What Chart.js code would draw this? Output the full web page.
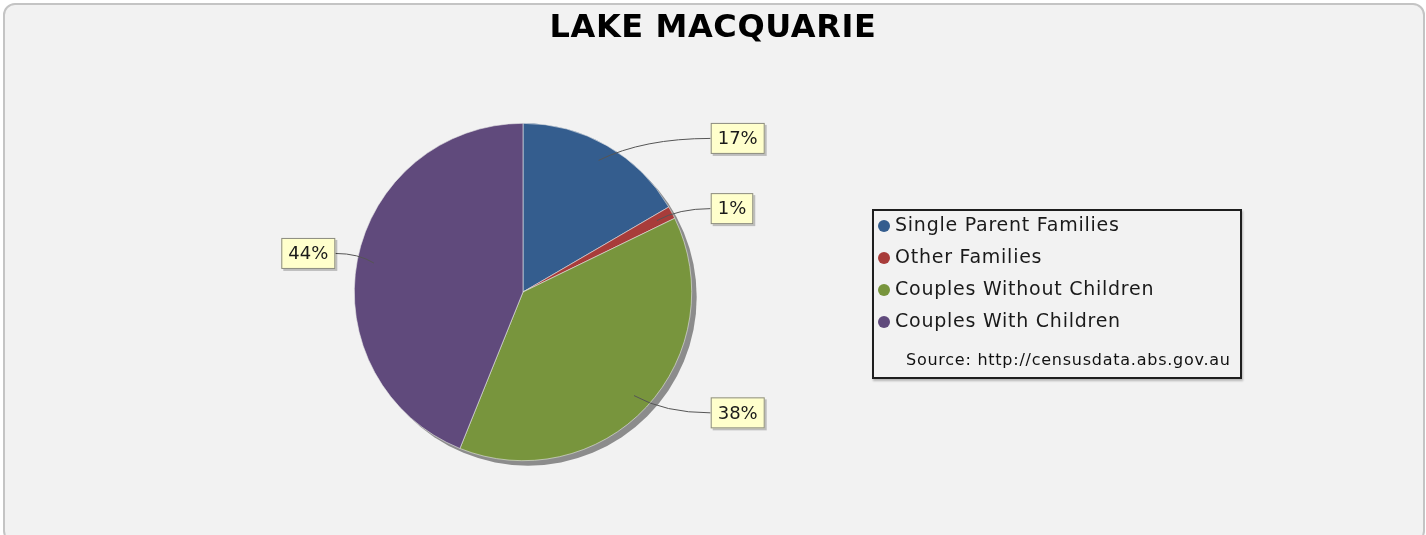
<!DOCTYPE html>
<html>
<head>
<meta charset="utf-8">
<script src="https://cdn.jsdelivr.net/npm/chart.js@4"></script>
<style>
  html, body { margin: 0; padding: 0; background: #ffffff; }
  #frame {
    position: absolute; left: 3px; top: 3px; width: 1418px; height: 536px;
    border: 2px solid #c4c4c4; border-radius: 12px; background: #f2f2f2;
  }
  #pie { position: absolute; left: 0; top: 0; }
  #title {
    position: absolute; left: 0; top: 7px; width: 1426px; text-align: center;
    font: bold 32px "DejaVu Sans", sans-serif; color: #000; letter-spacing: 0.6px;
  }
  #legend {
    position: absolute; left: 872px; top: 209px; width: 366px; height: 166px;
    border: 2px solid #1e1e1e; background: #f2f2f2;
    box-shadow: 1px 2px 2px rgba(0,0,0,0.25);
    font: 19px "DejaVu Sans", sans-serif; color: #1a1a1a;
  }
  .row { position: absolute; left: 0; height: 32px; line-height: 28px; white-space: nowrap; letter-spacing: 0.75px; }
  .dot { display: inline-block; width: 12px; height: 12px; border-radius: 50%; margin: 0 5px 0 4px; vertical-align: -1px; }
  #source { position: absolute; left: 32px; top: 139px; font: 16px "DejaVu Sans", sans-serif; letter-spacing: 0.75px; color: #111; }
</style>
</head>
<body>
<div id="frame"></div>
<canvas id="pie" width="1426" height="535"></canvas>
<div id="title"></div>
<div id="legend"><div id="source"></div></div>
<script>
// chart data
let chartTitle = 'LAKE MACQUARIE';
let categories = ['Single Parent Families', 'Other Families', 'Couples Without Children', 'Couples With Children'];
let shares = [16.6, 1.2, 38.3, 43.9];
let shareLabels = ['17%', '1%', '38%', '44%'];
let sliceColors = ['#345d8e', '#a83c3a', '#78953d', '#604a7c'];
let sourceNote = 'Source: http://censusdata.abs.gov.au';

document.getElementById('title').textContent = chartTitle;
document.getElementById('source').textContent = sourceNote;

// legend rows
let legend = document.getElementById('legend');
categories.forEach(function(name, i) {
    let row = document.createElement('div');
    row.className = 'row';
    row.style.top = (-1 + i * 32) + 'px';
    let dot = document.createElement('span');
    dot.className = 'dot';
    dot.style.background = sliceColors[i];
    row.appendChild(dot);
    row.appendChild(document.createTextNode(name));
    legend.appendChild(row);
});

// grey drop shadow under the pie
const pieShadow = {
    id: 'pieShadow',
    beforeDatasetsDraw(chart) {
        let arc = chart.getDatasetMeta(0).data[0];
        let ctx = chart.ctx;
        ctx.save();
        ctx.fillStyle = '#8c8c8c';
        ctx.beginPath();
        ctx.arc(arc.x + 5, arc.y + 5, arc.outerRadius, 0, Math.PI * 2);
        ctx.fill();
        ctx.restore();
    }
};

// percentage boxes with curved link lines
const sliceLabels = {
    id: 'sliceLabels',
    afterDatasetsDraw(chart) {
        let ctx = chart.ctx;
        let arcs = chart.getDatasetMeta(0).data;
        ctx.save();
        ctx.font = '18px "DejaVu Sans", sans-serif';
        arcs.forEach(function(arc, i) {
            let mid = (arc.startAngle + arc.endAngle) / 2;
            let dx = Math.cos(mid), dy = Math.sin(mid);
            let R = arc.outerRadius;
            let right = dx >= 0;
            let ax = arc.x + dx * R * 0.9, ay = arc.y + dy * R * 0.9;
            let ly = arc.y + dy * R * (right ? 1.05 : 1.2);
            let text = shareLabels[i];
            let tw = ctx.measureText(text).width;
            let bw = tw + 14, bh = 31;
            let bx = right ? arc.x + R + 19 : arc.x - R - 19 - bw;
            let by = ly - bh / 2;
            let ex = right ? bx : bx + bw;
            let cx = ax + (ex - ax) * 0.4;

            ctx.strokeStyle = '#555555';
            ctx.lineWidth = 1;
            ctx.beginPath();
            ctx.moveTo(ax, ay);
            ctx.quadraticCurveTo(cx, ly, ex, ly);
            ctx.stroke();

            ctx.fillStyle = 'rgba(0,0,0,0.22)';
            ctx.fillRect(bx + 2, by + 2, bw, bh);
            ctx.fillStyle = '#ffffcc';
            ctx.fillRect(bx, by, bw, bh);
            ctx.strokeStyle = '#8a8a80';
            ctx.strokeRect(bx + 0.5, by + 0.5, bw - 1, bh - 1);

            ctx.fillStyle = '#1a1a1a';
            ctx.textAlign = 'center';
            ctx.textBaseline = 'middle';
            ctx.fillText(text, bx + bw / 2, ly + 1);
        });
        ctx.restore();
    }
};

new Chart('pie', {
    type: 'pie',
    data: {
        labels: categories,
        datasets: [{
            data: shares,
            backgroundColor: sliceColors,
            borderColor: '#e8e8e8',
            borderWidth: 0.6
        }]
    },
    options: {
        responsive: false,
        animation: false,
        layout: { padding: { left: 354, right: 734, top: 123, bottom: 74 } },
        plugins: {
            legend: { display: false },
            tooltip: { enabled: false }
        }
    },
    plugins: [pieShadow, sliceLabels]
});
</script>
</body>
</html>
